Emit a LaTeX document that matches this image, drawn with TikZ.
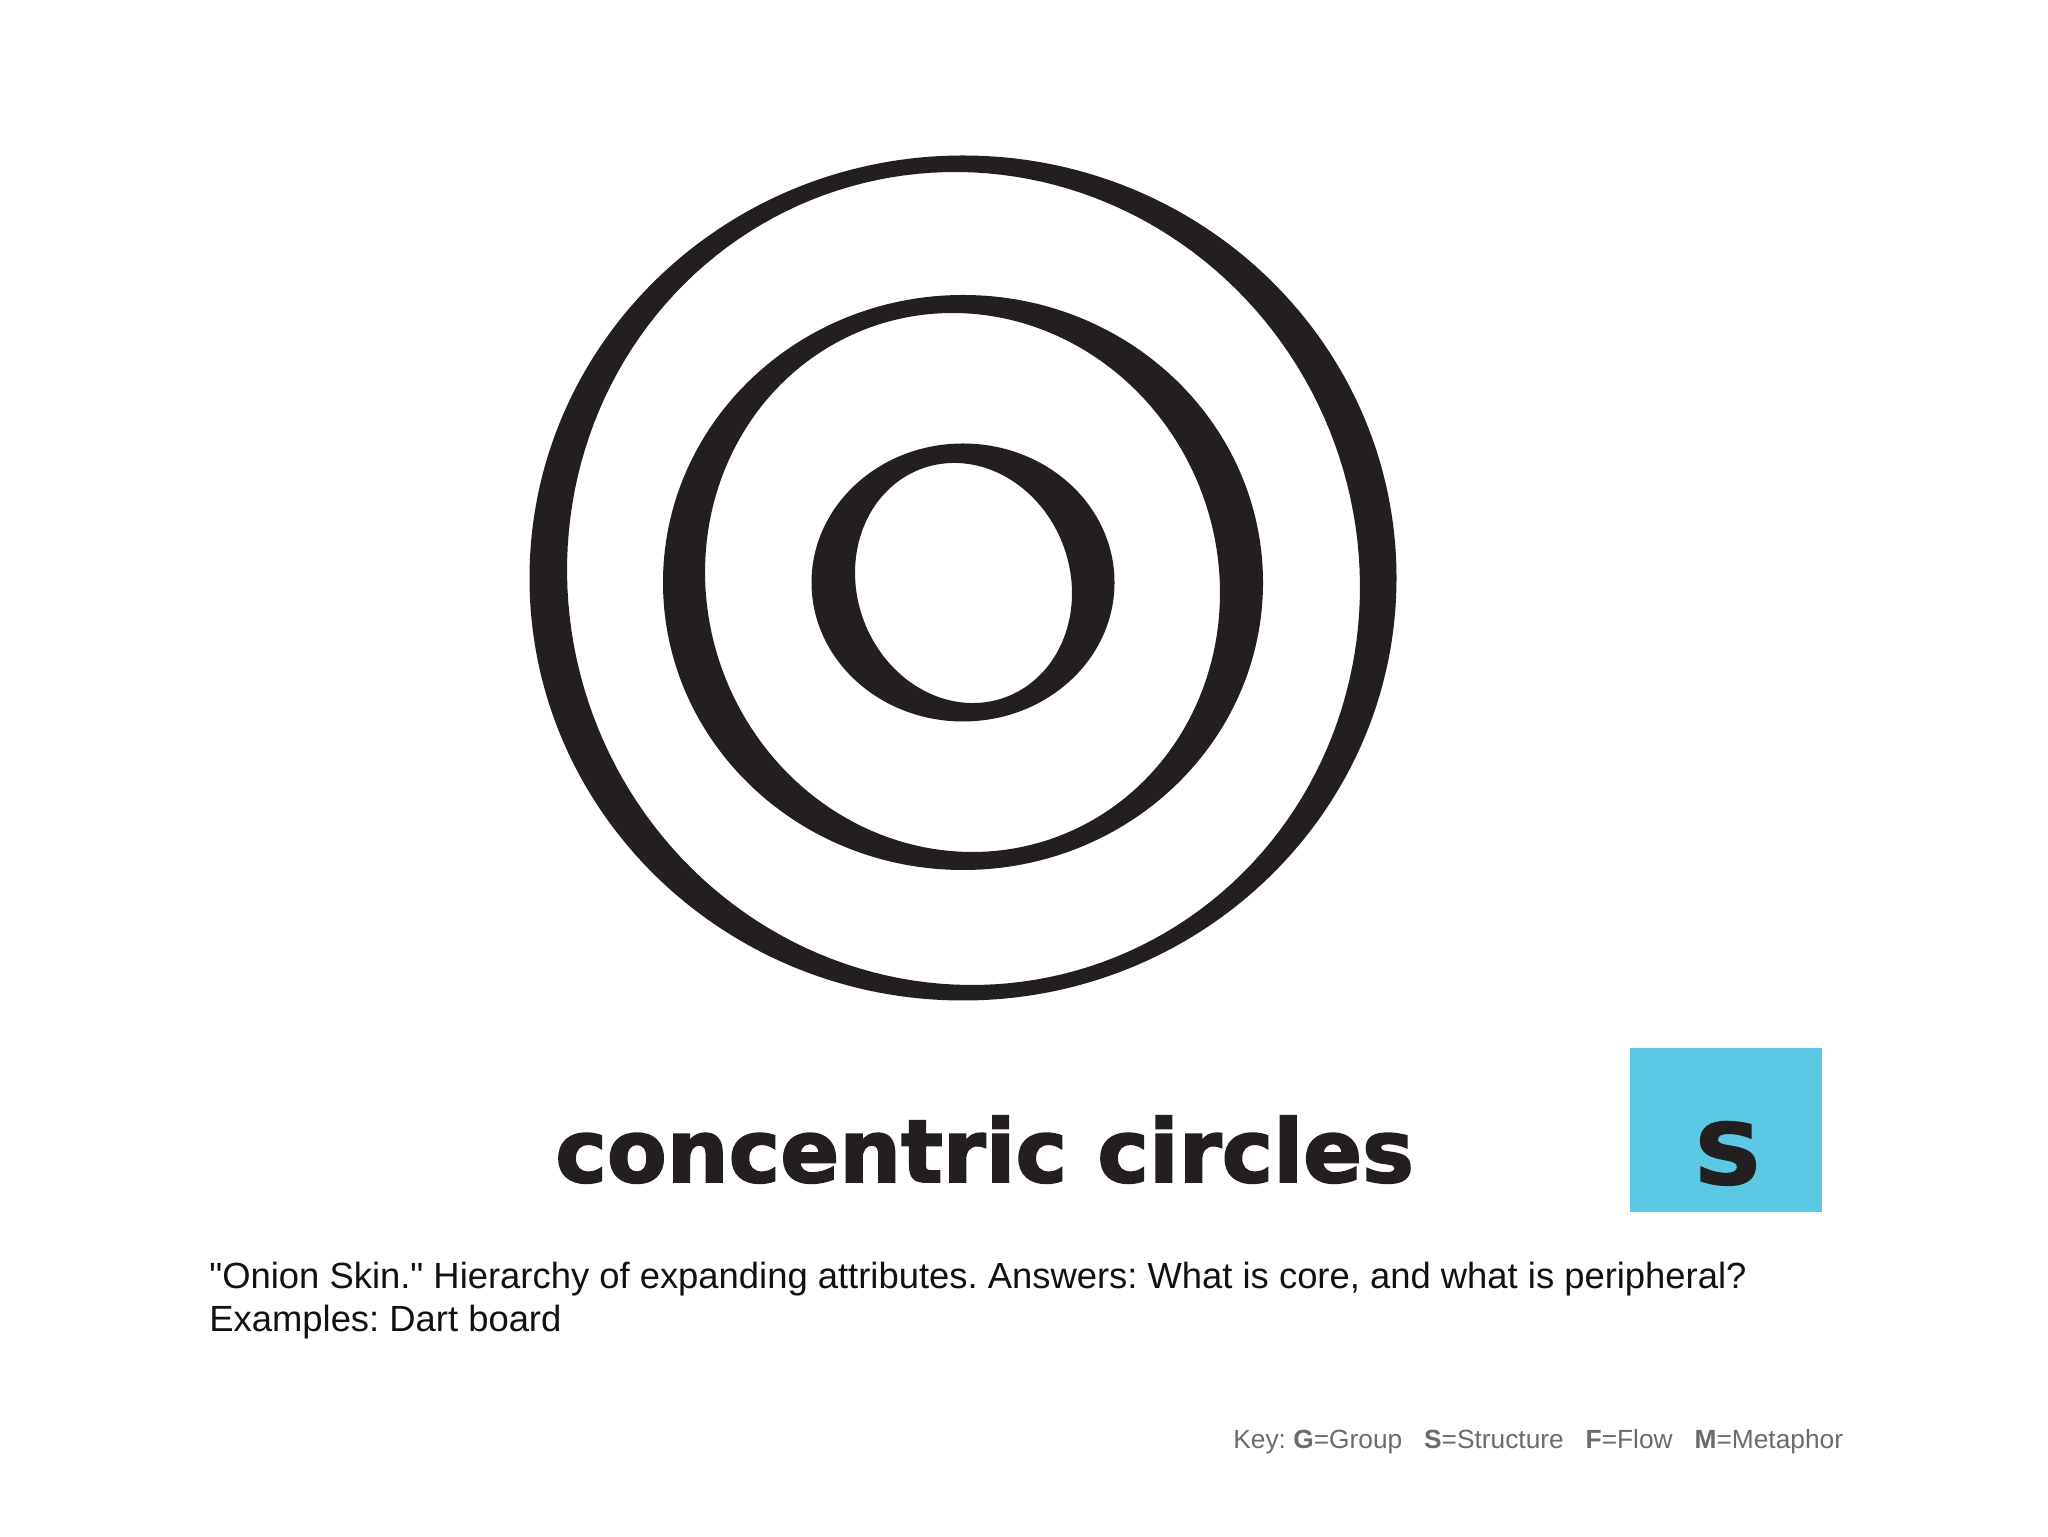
\documentclass[tikz,border=0pt]{standalone}
\usepackage{fontspec}
\setmainfont{Liberation Sans}[Ligatures=TeXOff]
\newfontfamily\heavyfont[FakeBold=2.2]{DejaVu Sans Bold}
\definecolor{ink}{HTML}{231F20}
\definecolor{boxcyan}{HTML}{5BC8E4}
\definecolor{keygray}{HTML}{6B6B6B}
\definecolor{bodyink}{HTML}{111111}
\frenchspacing
\newcommand\onionring[9]{%
  \fill[ring] (#1,#2) ellipse [x radius=#3, y radius=#4]
    plot[domain=0:360, samples=181, variable=\t]
      ({#5 + #7*cos(\t)*cos(#9) - #8*sin(\t)*sin(#9)},
       {#6 + #7*cos(\t)*sin(#9) + #8*sin(\t)*cos(#9)}) -- cycle;}
\begin{document}
\begin{tikzpicture}[x=0.5pt,y=0.5pt,
  ring/.style={fill=ink, even odd rule},
  titletext/.style={inner sep=0pt, anchor=base west, text=ink,
    font=\heavyfont\fontsize{43.5pt}{50pt}\selectfont},
  bodytext/.style={inner sep=0pt, anchor=base west, text=bodyink,
    font=\fontsize{18.2pt}{21.5pt}\selectfont},
  keytext/.style={inner sep=0pt, anchor=base west, text=keygray,
    font=\fontsize{13.15pt}{16pt}\selectfont},
  catbox/.style={fill=boxcyan, inner sep=0pt, minimum width=96pt, minimum height=82pt},
  catletter/.style={inner sep=0pt, anchor=base, text=ink,
    font=\heavyfont\fontsize{42pt}{48pt}\selectfont}]
\useasboundingbox (0,0) rectangle (2048,1536);
\fill[white] (0,0) rectangle (2048,1536);
% rings (outer ellipse, rotated inner hole)
\onionring{963}{958}{433.5}{422.5}{963.5}{957.5}{394.9}{408.0}{20}
\onionring{963}{953.5}{300}{287.5}{962.5}{953.5}{255.6}{271.3}{20}
\onionring{963}{953.5}{151.5}{139}{963.5}{953}{106.6}{121.7}{20}
% title
\node[titletext] (title) at (555,354) {concentric circles};
% category box
\node[catbox] (sbox) at (1726,406) {};
\node[catletter, xscale=1.12] (sletter) at (1728,352) {S};
% description
\node[bodytext] (desca) at (209,248) {"Onion Skin." Hierarchy of expanding attributes. Answers: What is core, and what is peripheral?};
\node[bodytext] (descb) at (209,205) {Examples: Dart board};
% key
\node[keytext] (keyline) at (1233,88) {Key: \textbf{G}=Group\hspace{0.834em}\textbf{S}=Structure\hspace{0.834em}\textbf{F}=Flow\hspace{0.834em}\textbf{M}=Metaphor};
\end{tikzpicture}
\end{document}
